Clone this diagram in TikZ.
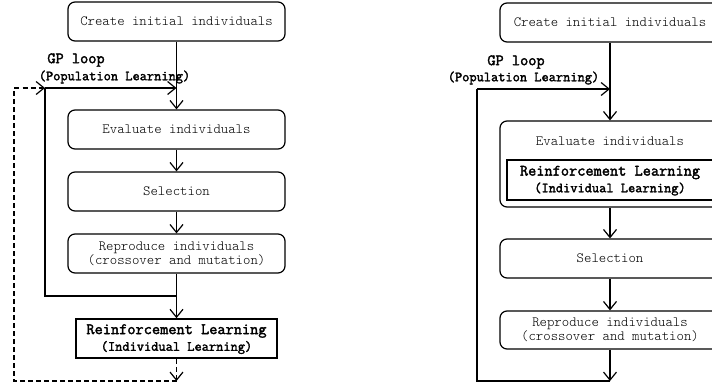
\documentclass[tikz,border=0pt]{standalone}
\usepackage{fontspec}
\newfontfamily\lmono{Latin Modern Mono Light}
\newfontfamily\bmono{Latin Modern Mono}[FakeBold=2.2]
\usetikzlibrary{arrows.meta}
\tikzset{
  x=1pt,y=-1pt,
  conn/.style={line width=1.2pt,-{Straight Barb[length=8pt,width=13pt,line width=1.2pt]}},
  plain/.style={line width=1.2pt},
  dconn/.style={conn,dash pattern=on 5pt off 3pt},
  stepbox/.style={draw,line width=1.2pt,rounded corners=7pt,inner sep=0pt,align=center,
    font=\lmono\fontsize{14.1}{12.5}\selectfont},
  rlbox/.style={draw,line width=1.6pt,inner sep=0pt,align=center},
  txt/.style={font=\lmono\fontsize{14.1}{13}\selectfont,inner sep=0pt},
  big/.style={font=\bmono\fontsize{15.9}{16}\selectfont,inner sep=0pt},
  mid/.style={font=\bmono\fontsize{14}{14}\selectfont,inner sep=0pt},
}
\begin{document}
\begin{tikzpicture}
\useasboundingbox (0,0) rectangle (712,388);
\clip (0,0) rectangle (712,388);
% ---------- left diagram ----------
\node[stepbox,minimum width=217pt,minimum height=39pt] (c1) at (176.5,21.5) {Create initial individuals};
\node[stepbox,minimum width=217pt,minimum height=39pt] (ev1) at (176.5,129.5) {Evaluate individuals};
\node[stepbox,minimum width=217pt,minimum height=39pt] (sel1) at (176.5,191.5) {Selection};
\node[stepbox,minimum width=217pt,minimum height=39pt] (rep1) at (176.5,253.5) {Reproduce individuals\\(crossover and mutation)};
\node[rlbox,minimum width=201pt,minimum height=39pt] (rl1) at (176.5,338.5) {};
\node[big] (rl1a) at (176.5,331) {Reinforcement Learning};
\node[mid] (rl1b) at (176.5,347.5) {(Individual Learning)};
\node[big] (gp1) at (76,60) {GP loop};
\node[mid] (pl1) at (114.5,77) {(Population Learning)};
\coordinate (j1) at (176.5,88);
\coordinate (ls1) at (45,88);
\coordinate (lb1) at (45,296);
\coordinate (j2) at (176.5,296);
\coordinate (d1) at (176.5,381);
\coordinate (d2) at (14,381);
\coordinate (d3) at (14,88);
\draw[conn] (c1) -- (ev1);
\draw[conn] (ls1) -- (j1);
\draw[conn] (ev1) -- (sel1);
\draw[conn] (sel1) -- (rep1);
\draw[conn] (rep1) -- (rl1);
\draw[plain] (j2) -- (lb1) -- (ls1);
\draw[dconn] (rl1) -- (d1);
\draw[dconn] (d1) -- (d2) -- (d3) -- (ls1);
% ---------- right diagram ----------
\node[stepbox,minimum width=220pt,minimum height=39pt] (c2) at (610,22.5) {Create initial individuals};
\node[stepbox,minimum width=220pt,minimum height=86pt] (ev2) at (610,164) {};
\node[txt] (ev2t) at (610,141) {Evaluate individuals};
\node[rlbox,minimum width=206pt,minimum height=40pt] (rl2) at (610,180) {};
\node[big] (rl2a) at (610,172.5) {Reinforcement Learning};
\node[mid] (rl2b) at (610,189) {(Individual Learning)};
\node[stepbox,minimum width=220pt,minimum height=39pt] (sel2) at (610,258.5) {Selection};
\node[stepbox,minimum width=220pt,minimum height=38pt] (rep2) at (610,330) {Reproduce individuals\\(crossover and mutation)};
\node[big] (gp2) at (516,62) {GP loop};
\node[mid] (pl2) at (523.5,78) {(Population Learning)};
\coordinate (j3) at (610,89);
\coordinate (ls2) at (477,89);
\coordinate (lb2) at (477,381);
\coordinate (j4) at (610,381);
\draw[conn] (c2) -- (ev2);
\draw[conn] (ls2) -- (j3);
\draw[conn] (ev2) -- (sel2);
\draw[conn] (sel2) -- (rep2);
\draw[conn] (rep2) -- (j4);
\draw[plain] (j4) -- (lb2) -- (ls2);
\end{tikzpicture}
\end{document}
